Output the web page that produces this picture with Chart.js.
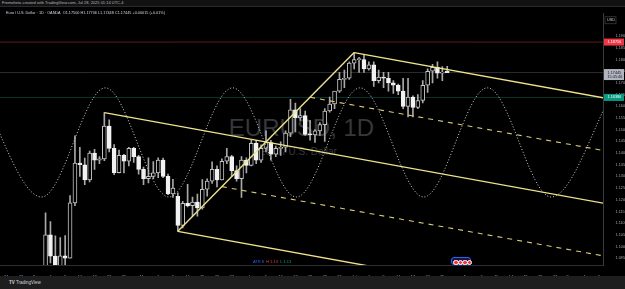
<!DOCTYPE html>
<html>
<head>
<meta charset="utf-8">
<script src="https://cdn.jsdelivr.net/npm/chart.js@4.4.1/dist/chart.umd.min.js"></script>
<style>
html, body { margin: 0; padding: 0; background: #000; width: 625px; height: 289px; overflow: hidden; font-family: "Liberation Sans", Arial, sans-serif; }
#top { position: absolute; left: 0; top: 0; width: 625px; height: 7px; background: #121212; border-bottom: 1px solid #2a2a2a; box-sizing: border-box; color: #b2b5be; font-size: 4px; line-height: 6px; padding-left: 2px; }
#legend { position: absolute; left: 6px; top: 11px; color: #d1d4dc; font-size: 3.8px; white-space: nowrap; z-index: 3; }
#wm { position: absolute; left: 0; top: 114px; width: 603px; text-align: center; color: #37383c; font-size: 24px; }
#wm2 { position: absolute; left: 0; top: 146px; width: 596px; text-align: center; color: #37383c; font-size: 10px; }
#wrap { position: absolute; left: 0; top: 7px; width: 625px; height: 269px; z-index: 2; }
#bottom { position: absolute; left: 0; top: 276px; width: 625px; height: 13px; background: #1e1e1e; color: #d1d4dc; font-size: 4.5px; line-height: 13px; padding-left: 9px; box-sizing: border-box; }
#ind { position: absolute; left: 253px; top: 259px; font-size: 4px; z-index: 3; white-space: nowrap; }
#evt { position: absolute; left: 451px; top: 257px; width: 20px; height: 8px; border: 1px solid #2962ff; border-radius: 3px; background: #12183a; z-index: 3; box-sizing: border-box; }
#evt span { position: absolute; top: 1.5px; width: 3.5px; height: 3.5px; border-radius: 50%; background: #f23645; border: 0.5px solid #fff; }
</style>
</head>
<body>
<div id="top">Fremoheta created with TradingView.com, Jul 28, 2025 01:14 UTC-4</div>
<div id="wm">EURUSD, 1D</div>
<div id="wm2">Euro / U.S. Dollar</div>
<div id="wrap"><canvas id="grafico"></canvas></div>
<div id="legend">Euro / U.S. Dollar · 1D · OANDA&nbsp;&nbsp;O1.17500 H1.17706 L1.17448 C1.17445 +0.00015 (+0.01%)</div>
<div id="ind"><span style="color:#2962ff">ATR 8</span>&nbsp;&nbsp;<span style="color:#f23645">H 1.13</span>&nbsp;&nbsp;<span style="color:#089981">L 1.13</span></div>
<div id="evt"><span style="left:1px"></span><span style="left:5.5px"></span><span style="left:10px"></span><span style="left:14.5px"></span></div>
<div id="bottom"><b>TV</b> TradingView</div>
<script>
// candele giornaliere EUR/USD, indice 0 = 21 marzo 2025 (solo giorni feriali)
const opens  = [1.0853,1.0816,1.0802,1.0791,1.0753,1.0800,1.0829,1.0817,1.0791,1.0852,
                1.1050,1.0959,1.0909,1.0960,1.0950,1.1187,1.1357,1.1350,1.1285,1.1400,
                1.1370,1.1375,1.1515,1.1420,1.1316,1.1390,1.1365,1.1420,1.1385,1.1330,
                1.1290,1.1300,1.1315,1.1370,1.1300,1.1225,1.1215,1.1090,1.1185,1.1175,
                1.1190,1.1165,1.1245,1.1280,1.1330,1.1285,1.1365,1.1385,1.1325,1.1290,
                1.1370,1.1347,1.1442,1.1370,1.1420,1.1445,1.1395,1.1420,1.1425,1.1485,
                1.1585,1.1550,1.1560,1.1480,1.1478,1.1495,1.1522,1.1580,1.1610,1.1665,
                1.1715,1.1720,1.1785,1.1800,1.1800,1.1760,1.1778,1.1710,1.1725,1.1720,
                1.1700,1.1690,1.1665,1.1600,1.1640,1.1595,1.1625,1.1690,1.1750,1.1767,
                1.1742,1.1750];
const highs  = [1.0868,1.0858,1.0830,1.0801,1.0804,1.0836,1.0838,1.0832,1.0855,1.1144,
                1.1107,1.1046,1.1038,1.1047,1.1218,1.1474,1.1424,1.1379,1.1408,1.1416,
                1.1385,1.1573,1.1542,1.1436,1.1413,1.1395,1.1425,1.1425,1.1390,1.1340,
                1.1380,1.1364,1.1380,1.1379,1.1310,1.1288,1.1230,1.1193,1.1266,1.1212,
                1.1225,1.1286,1.1290,1.1362,1.1345,1.1375,1.1420,1.1390,1.1345,1.1385,
                1.1380,1.1455,1.1455,1.1435,1.1495,1.1455,1.1430,1.1448,1.1495,1.1630,
                1.1614,1.1590,1.1580,1.1540,1.1500,1.1530,1.1590,1.1640,1.1660,1.1745,
                1.1755,1.1790,1.1830,1.1810,1.1820,1.1790,1.1790,1.1755,1.1745,1.1745,
                1.1710,1.1695,1.1720,1.1720,1.1645,1.1650,1.1710,1.1760,1.1780,1.1790,
                1.1770,1.1771];
const lows   = [1.0797,1.0796,1.0780,1.0745,1.0733,1.0780,1.0779,1.0778,1.0775,1.0845,
                1.0930,1.0880,1.0900,1.0912,1.0950,1.1175,1.1300,1.1265,1.1277,1.1330,
                1.1355,1.1367,1.1405,1.1308,1.1315,1.1315,1.1345,1.1360,1.1310,1.1265,
                1.1272,1.1290,1.1295,1.1295,1.1222,1.1210,1.1065,1.1080,1.1170,1.1130,
                1.1130,1.1160,1.1215,1.1270,1.1255,1.1285,1.1355,1.1300,1.1280,1.1210,
                1.1315,1.1345,1.1355,1.1360,1.1405,1.1370,1.1385,1.1390,1.1405,1.1470,
                1.1490,1.1540,1.1475,1.1455,1.1445,1.1475,1.1450,1.1575,1.1590,1.1660,
                1.1680,1.1715,1.1760,1.1745,1.1745,1.1755,1.1685,1.1700,1.1680,1.1665,
                1.1655,1.1650,1.1590,1.1555,1.1555,1.1590,1.1615,1.1660,1.1700,1.1720,
                1.1710,1.1744];
const closes = [1.0816,1.0802,1.0791,1.0753,1.0800,1.0829,1.0817,1.0791,1.0852,1.1050,
                1.0959,1.0909,1.0960,1.0950,1.1187,1.1357,1.1350,1.1285,1.1400,1.1370,
                1.1375,1.1515,1.1420,1.1316,1.1390,1.1365,1.1420,1.1385,1.1330,1.1290,
                1.1300,1.1315,1.1370,1.1300,1.1225,1.1250,1.1090,1.1185,1.1175,1.1190,
                1.1165,1.1245,1.1280,1.1330,1.1285,1.1365,1.1385,1.1325,1.1290,1.1370,
                1.1347,1.1442,1.1370,1.1420,1.1445,1.1395,1.1420,1.1425,1.1485,1.1585,
                1.1550,1.1560,1.1480,1.1478,1.1495,1.1522,1.1580,1.1610,1.1665,1.1715,
                1.1720,1.1785,1.1800,1.1801,1.1760,1.1778,1.1710,1.1725,1.1721,1.1700,
                1.1690,1.1665,1.1600,1.1640,1.1595,1.1625,1.1690,1.1750,1.1767,1.1742,
                1.1743,1.17445];

// etichette asse x (posizione = indice della barra)
const tickPos  = [1,4,7,10,13,16,19,22,25,29,32,35,38,41,44,47,51,54,57,60,63,66,69,72,75,78,81,84,87,90,95,98,101,104,107,110,113,116,119,122];
const tickText = ['24','27','Apr','4','9','14','17','22','25','May','6','9','14','19','22','27','Jun','5','10','13','18','23','26','Jul','4','9','14','17','22','25','Aug','6','11','14','19','22','27','Sep','4','9'];

// etichette asse prezzi
const yTicks = [1.095,1.1,1.105,1.11,1.115,1.12,1.125,1.13,1.135,1.14,1.145,1.15,1.155,1.16,1.165,1.17,1.175,1.18,1.185,1.19];

// pitchfork: tre pivot (indice barra, prezzo)
const pivotX = [21, 36, 72];
const pivotY = [1.1573, 1.1065, 1.1830];

// linea sinusoidale: massimi e minimi
const sineX = [-4.8, 8.2, 21.2, 34.2, 47.2, 60.2, 73.2, 86.2, 99.2, 112.2, 125.2];
const sineY = [1.1679, 1.1212, 1.1679, 1.1212, 1.1679, 1.1212, 1.1679, 1.1212, 1.1679, 1.1212, 1.1679];

// livelli orizzontali: allarme, prezzo attuale, livello verde
const levelPrices = [1.1875, 1.17445, 1.1638];
const levelLine   = ['#5c1a1e', '#2c2c2c', '#0a332e'];
const levelTag    = ['#f23645', '#b2b5be', '#089981'];
const levelText   = ['#ffffff', '#131722', '#ffffff'];

const giallo = '#efe38a';
const xEnd = 140;

function punto(x, y) { return { x: x, y: y }; }
function mezzo(a, b) { return punto((a.x + b.x) / 2, (a.y + b.y) / 2); }

const A = punto(pivotX[0], pivotY[0]);
const B = punto(pivotX[1], pivotY[1]);
const C = punto(pivotX[2], pivotY[2]);
const M = mezzo(B, C);
const pendenza = (M.y - A.y) / (M.x - A.x);
function prolunga(p) { return [p, punto(xEnd, p.y + pendenza * (xEnd - p.x))]; }

function linea(data, dash) {
    return {
        type: 'line', data: data, borderColor: dash ? '#d8cd78' : giallo,
        borderWidth: dash ? 1.1 : 1.4,
        borderDash: dash || [], pointRadius: 0, fill: false, order: 0
    };
}

let candele = opens.map((o, i) => ({ x: i, y: [o, closes[i]] }));
let stoppini = opens.map((o, i) => ({ x: i, y: [lows[i], highs[i]] }));
let su = opens.map((o, i) => closes[i] >= o);

let datasets = [
    {
        type: 'bar', data: candele, grouped: false, barThickness: 4, minBarLength: 1,
        backgroundColor: su.map(u => u ? '#000000' : '#f2f2f2'),
        borderColor: su.map(u => u ? '#c4c4c4' : '#f2f2f2'),
        borderWidth: 1, borderSkipped: false, order: 1
    },
    {
        type: 'bar', data: stoppini, grouped: false, barThickness: 1,
        backgroundColor: '#a8a8a8', borderWidth: 0, order: 2
    },
    {
        type: 'line', data: sineX.map((x, i) => punto(x, sineY[i])),
        borderColor: '#cfcfcf', borderWidth: 1, borderDash: [1, 2],
        cubicInterpolationMode: 'monotone', pointRadius: 0, fill: false, order: 0
    },
    linea(prolunga(A)),
    linea(prolunga(B)),
    linea(prolunga(C)),
    linea([B, C]),
    linea(prolunga(mezzo(C, M)), [5, 5]),
    linea(prolunga(mezzo(B, M)), [5, 5])
];

levelPrices.forEach((p, i) => {
    datasets.push({
        type: 'line', data: [punto(-1, p), punto(xEnd, p)], borderColor: levelLine[i],
        borderWidth: 1, pointRadius: 0, fill: false, order: 3
    });
});

// etichette colorate sull'asse dei prezzi
const etichetteAsse = {
    id: 'etichetteAsse',
    afterDraw(chart) {
        const { ctx, chartArea, scales } = chart;
        const x0 = chartArea.right + 1;
        ctx.save();
        ctx.font = '3.8px "Liberation Sans", Arial';
        ctx.textBaseline = 'middle';
        levelPrices.forEach((p, i) => {
            let py = scales.y.getPixelForValue(p);
            let h = i === 1 ? 11 : 7;
            ctx.fillStyle = levelTag[i];
            ctx.fillRect(x0, py - 3.5, 20, h);
            ctx.fillStyle = levelText[i];
            ctx.fillText(p.toFixed(5), x0 + 3.5, py);
            if (i === 1) ctx.fillText('15:45:46', x0 + 3.5, py + 4.5);
        });
        // riquadro valuta
        ctx.strokeStyle = '#4a4a4a';
        ctx.lineWidth = 0.6;
        ctx.strokeRect(x0 + 1, chartArea.top + 3, 11, 7);
        ctx.fillStyle = '#c8c8c8';
        ctx.fillText('USD', x0 + 3, chartArea.top + 6.5);
        ctx.restore();
    }
};

let ctx = document.getElementById('grafico').getContext('2d');
window.grafico = new Chart(ctx, {
    type: 'bar',
    data: { datasets: datasets },
    options: {
        responsive: true,
        maintainAspectRatio: false,
        animation: false,
        events: [],
        layout: { padding: 0 },
        plugins: { legend: { display: false }, tooltip: { enabled: false } },
        scales: {
            x: {
                type: 'linear', min: -0.3, max: 122.8, offset: false,
                grid: { display: false },
                border: { display: true, color: '#2e2e2e' },
                ticks: {
                    autoSkip: false, maxRotation: 0, padding: 2, color: '#a3a6ae',
                    font: { size: 3.8, family: '"Liberation Sans", Arial' },
                    callback: v => { let k = tickPos.indexOf(v); return k >= 0 ? tickText[k] : ''; }
                },
                afterBuildTicks: s => { s.ticks = tickPos.map(v => ({ value: v })); },
                afterFit: s => { s.height = 11; }
            },
            y: {
                type: 'linear', position: 'right', min: 1.0921, max: 1.1996,
                grid: { display: false },
                border: { display: true, color: '#3a3a3a' },
                ticks: {
                    padding: 4.5, color: '#a3a6ae',
                    font: { size: 3.8, family: '"Liberation Sans", Arial' },
                    callback: v => v.toFixed(5)
                },
                afterBuildTicks: s => { s.ticks = yTicks.map(v => ({ value: v })); },
                afterFit: s => { s.width = 22; }
            }
        }
    },
    plugins: [etichetteAsse]
});
</script>
</body>
</html>
